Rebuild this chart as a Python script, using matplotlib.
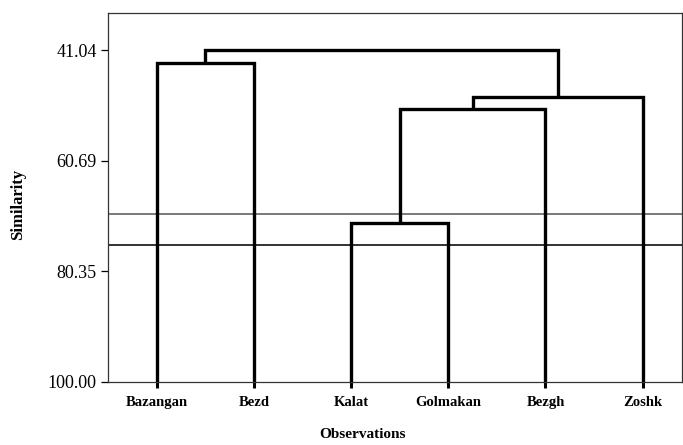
import matplotlib.pyplot as plt

plt.rcParams['font.family'] = ['Liberation Serif', 'DejaVu Serif']

# leaves in dendrogram order
leaves = ["Bazangan", "Bezd", "Kalat", "Golmakan", "Bezgh", "Zoshk"]
# merges: (left cluster, right cluster, similarity level)
merges = [
    ("Bazangan", "Bezd", 43.3),
    ("Kalat", "Golmakan", 71.7),
    ("C2", "Bezgh", 51.5),
    ("C3", "Zoshk", 49.4),
    ("C1", "C4", 41.04),
]
cut_lines = [70.1, 75.6]
yticks = [41.04, 60.69, 80.35, 100.00]

fig = plt.figure(figsize=(6.83, 4.45), dpi=100)
ax = fig.add_axes([0.158, 0.142, 0.84, 0.829])

pos = {name: (i + 1, 100.0) for i, name in enumerate(leaves)}
for k, (a, b, h) in enumerate(merges, start=1):
    xa, ya = pos[a]
    xb, yb = pos[b]
    ax.plot([xa, xa, xb, xb], [ya, h, h, yb], color='black', lw=2.4,
            solid_joinstyle='miter', solid_capstyle='butt', zorder=3)
    pos["C%d" % k] = ((xa + xb) / 2, h)

ax.axhline(cut_lines[0], color='#555555', lw=1.1, zorder=2)
ax.axhline(cut_lines[1], color='#222222', lw=1.3, zorder=2)

ax.set_ylim(100.0, 34.4)
ax.set_xlim(0.5, 6.4)
ax.set_yticks(yticks)
ax.set_yticklabels(["%.2f" % v for v in yticks], fontsize=13)
ax.set_xticks(range(1, len(leaves) + 1))
ax.set_xticklabels(leaves, fontsize=10.5, fontweight='bold')
ax.tick_params(axis='y', direction='out', length=5, width=0.9, pad=3)
ax.tick_params(axis='x', direction='out', length=4, width=2.2, pad=6)

for s in ax.spines.values():
    s.set_linewidth(0.9)
    s.set_color('#333333')

ax.set_ylabel("Similarity", fontsize=12, fontweight='bold')
ax.yaxis.set_label_coords(-0.143, 0.48)
ax.set_xlabel("Observations", fontsize=11, fontweight='bold')
ax.xaxis.set_label_coords(0.443, -0.125)

fig.savefig("out.png", dpi=100)
